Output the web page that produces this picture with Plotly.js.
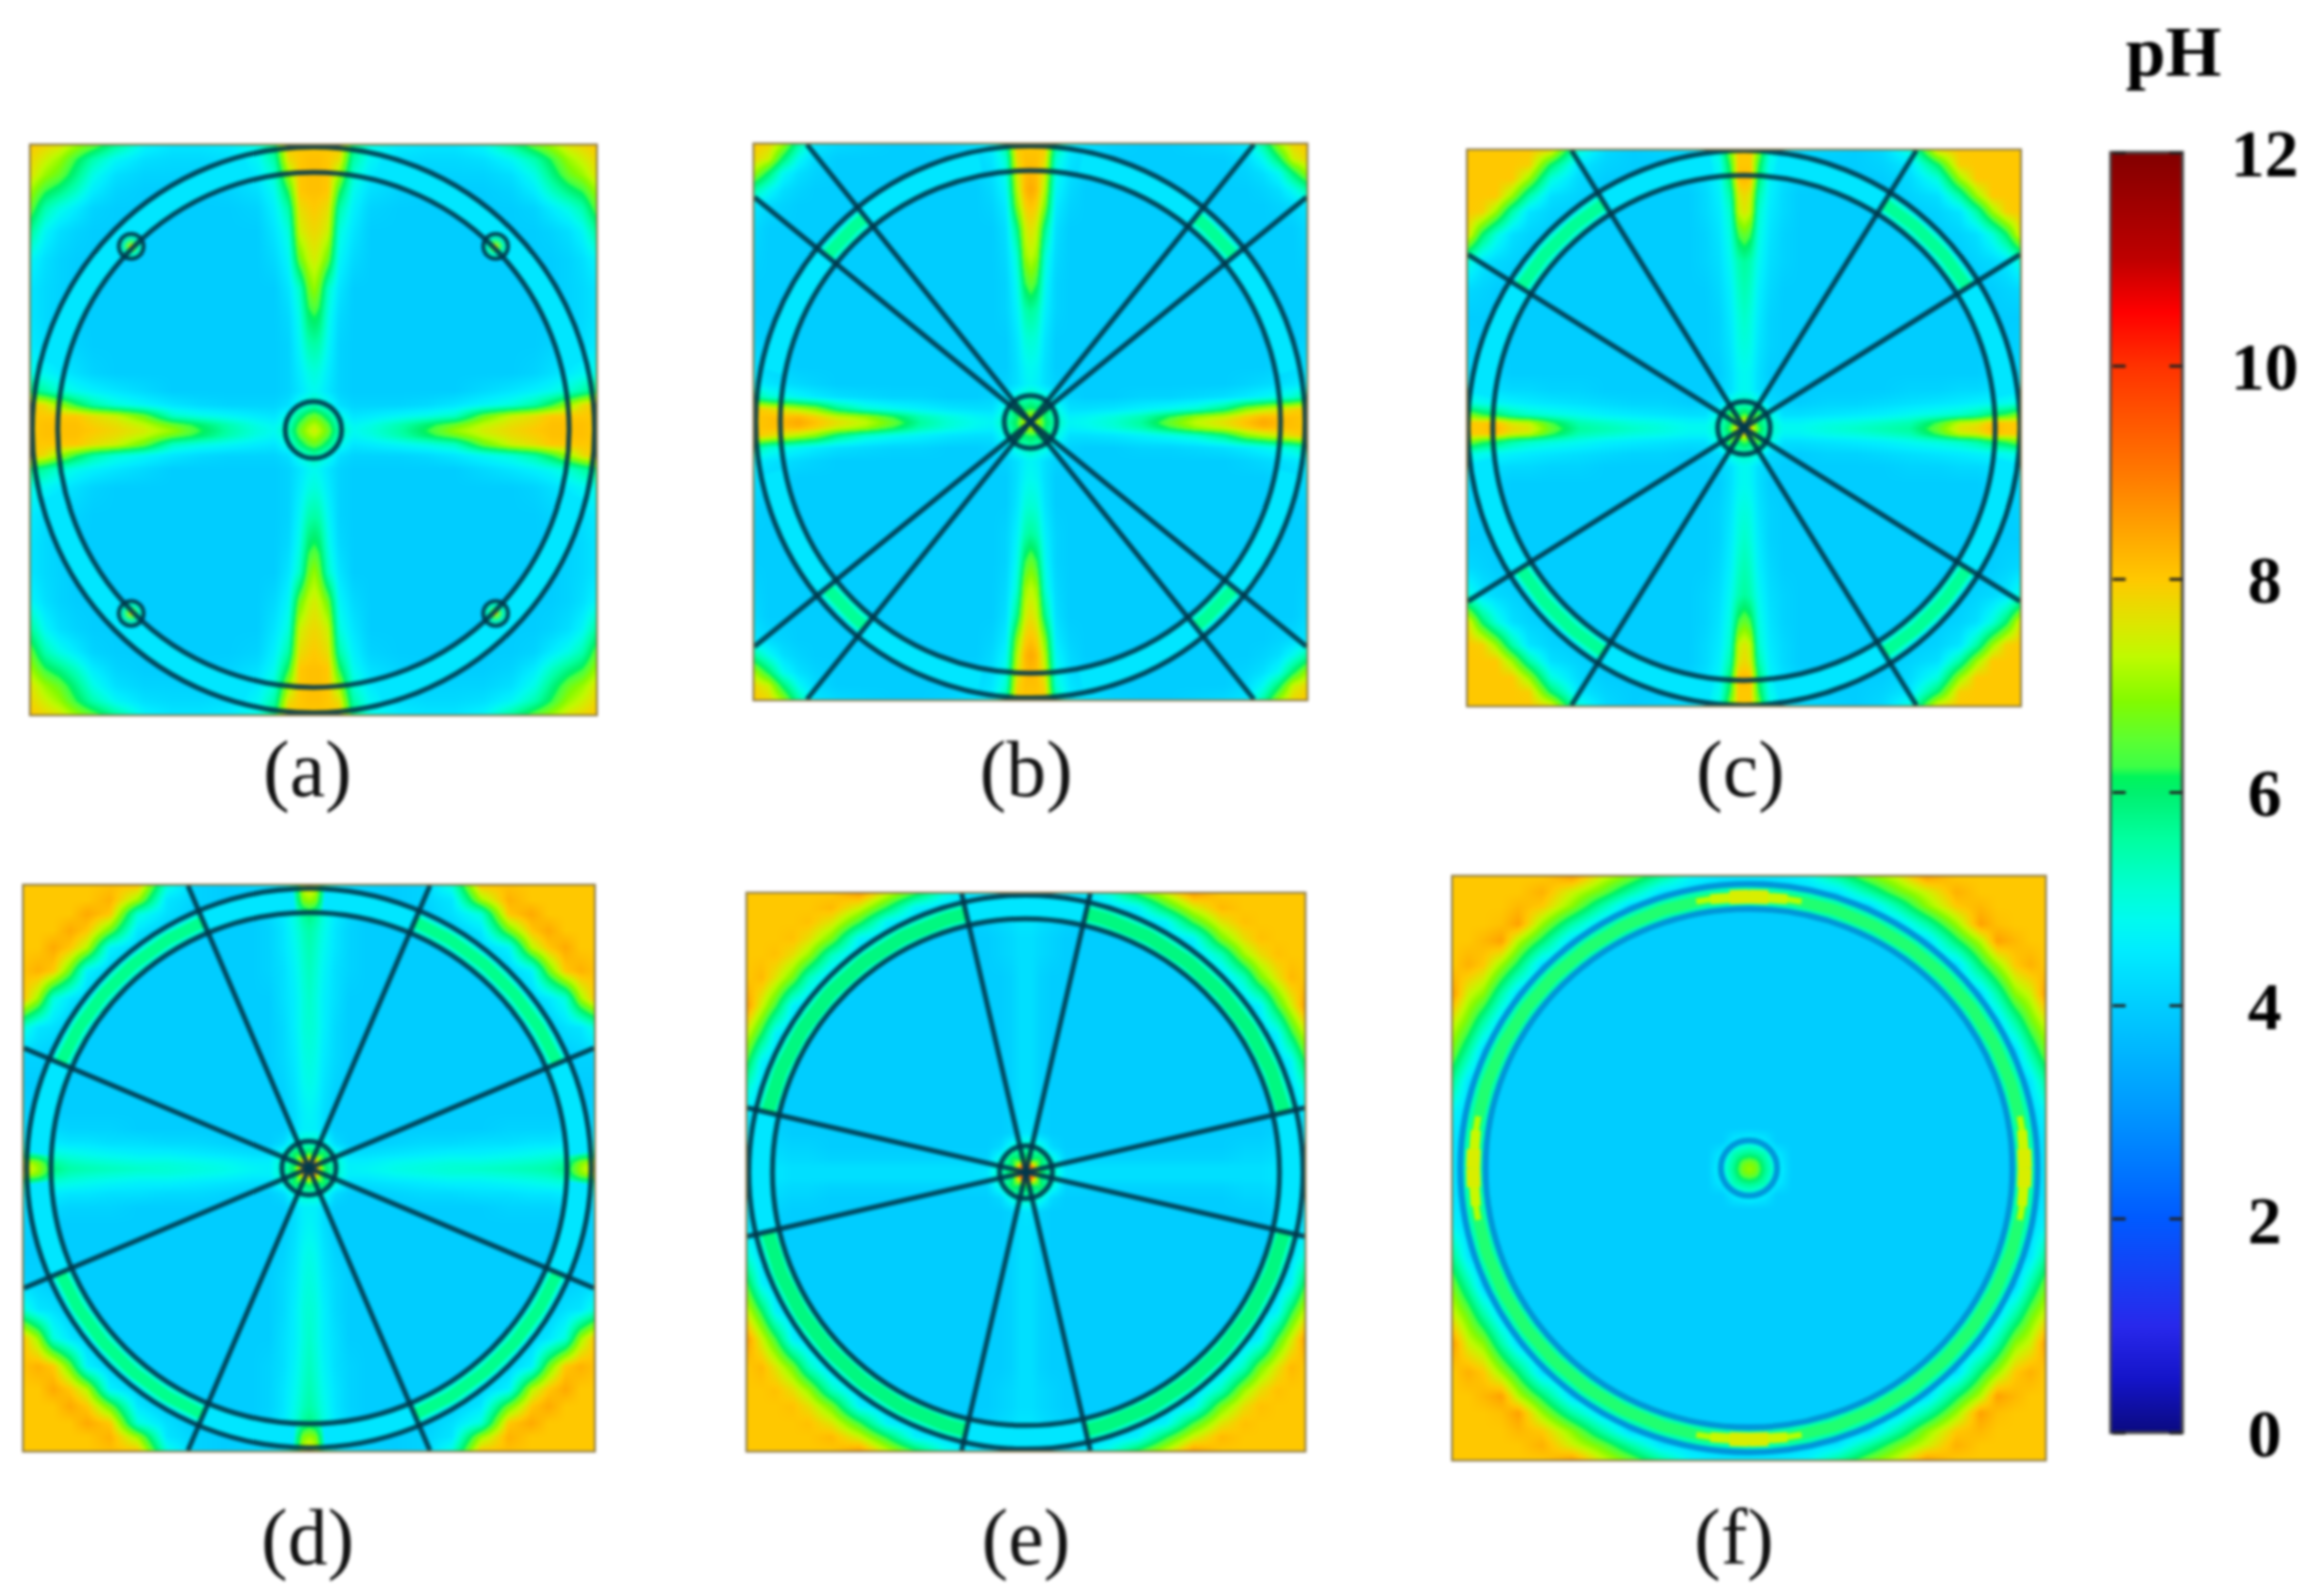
<!DOCTYPE html>
<html>
<head>
<meta charset="utf-8">
<script src="https://cdn.plot.ly/plotly-3.0.1.min.js"></script>
<style>
html, body { margin: 0; padding: 0; background: #fff; }
#plot { width: 2322px; height: 1602px; filter: blur(1.4px); }
</style>
</head>
<body>
<div id="plot"></div>
<script>
// pH colour key
const phStops = [0, 0.5, 1, 2, 3, 4, 4.5, 4.8, 5.1, 5.56, 6, 6.15, 6.24, 6.48, 6.85, 7.27, 7.58, 8, 9, 10, 10.5, 11, 12];
const phColors = ["#0a0a80", "#1414c8", "#2828eb", "#005aff", "#0096ff", "#00cdff", "#00ebff", "#00faf0", "#00ffd2",
    "#00ffa0", "#00f06e", "#00f55a", "#3cff46", "#5aff32", "#82fa00", "#befa00", "#dce600", "#ffc800",
    "#ff7800", "#ff3200", "#ff0000", "#be0000", "#820000"];
const phTicks = [0, 2, 4, 6, 8, 10, 12];
const phTickText = ["\u20050", "\u20052", "\u20054", "\u20056", "\u20058", "10", "12"];

// grid nodes along a half side of the square, centre = 0, edge = 1
const gridNodes = [0, .02, .05, .09, .14, .2, .3, .4, .5, .6, .7, .78, .84, .9, .95, 1];

// pH. Row k holds the values at (gridNodes[k], gridNodes[m]) for m <= k,
// the other seven octants of the square are mirrored from it.
const phRowsA = [
    [7.5],
    [7.2, 7.0],
    [6.6, 6.4, 5.8],
    [5.4, 5.2, 4.9, 4.3],
    [4.8, 4.7, 4.4, 4.1, 4],
    [5.0, 4.9, 4.5, 4.1, 4, 4],
    [5.5, 5.4, 4.7, 4.1, 4, 4, 4],
    [6.2, 6.0, 4.9, 4.2, 4, 4, 4, 4],
    [7.0, 6.6, 5.2, 4.4, 4, 4, 4, 4, 4],
    [7.5, 7.3, 6.6, 4.7, 4.2, 4, 4, 4, 4, 4],
    [7.8, 7.7, 7.4, 5.0, 4.4, 4, 4, 4, 4, 4, 4],
    [8, 7.9, 7.7, 5.5, 4.6, 4.1, 4, 4, 4, 4, 4, 4.1],
    [8.1, 8.1, 8, 6.2, 4.8, 4.3, 4.1, 4, 4, 4, 4.1, 4.5, 5.2],
    [8.1, 8.1, 8, 7, 5.1, 4.5, 4.1, 4.1, 4.1, 4.1, 4.3, 4.9, 5.8, 6.6],
    [8.1, 8.1, 8, 7.7, 5.5, 4.7, 4.3, 4.2, 4.2, 4.3, 4.7, 5.4, 6.2, 7, 7.4],
    [8, 8, 8, 8, 5.9, 4.9, 4.5, 4.4, 4.4, 4.7, 5.6, 6.5, 7, 7.6, 7.8, 8]
];
const phRowsB = [
    [7.6],
    [7.2, 7],
    [6.2, 6, 6.4],
    [5.4, 5.2, 5, 4.4],
    [4.7, 4.6, 4.3, 4.1, 4],
    [4.8, 4.7, 4.3, 4, 4, 4],
    [5.1, 5, 4.4, 4, 4, 4, 4],
    [5.6, 5.4, 4.6, 4.1, 4, 4, 4, 4],
    [6.6, 6.2, 4.8, 4.1, 4, 4, 4, 4, 4],
    [7.3, 7, 5.1, 4.2, 4, 4, 4, 4, 4, 4],
    [7.7, 7.4, 5.8, 4.3, 4, 4, 4, 4, 4, 4, 4],
    [8.1, 7.9, 6.8, 4.5, 4.1, 4, 4, 4, 4, 4, 4, 4],
    [8.4, 8.2, 7.2, 4.7, 4.2, 4, 4, 4, 4, 4, 4, 4, 4.1],
    [8.2, 8.1, 7.5, 4.9, 4.3, 4.1, 4, 4, 4, 4, 4, 4.1, 4.3, 4.8],
    [8.1, 8.1, 7.8, 5.1, 4.4, 4.2, 4, 4, 4, 4, 4, 4.2, 4.8, 6, 7.4],
    [8, 8, 8, 5.6, 4.6, 4.3, 4.1, 4, 4, 4.1, 4.2, 4.4, 5.5, 7, 7.8, 8]
];
const phRowsC = [
    [9],
    [8, 7.6],
    [6.4, 6, 6.4],
    [5.2, 5.2, 5, 4.2],
    [4.8, 4.7, 4.3, 4.1, 4],
    [4.8, 4.7, 4.3, 4, 4, 4],
    [5, 4.9, 4.4, 4.1, 4, 4, 4],
    [5.2, 5, 4.5, 4.1, 4, 4, 4, 4],
    [5.4, 5.2, 4.6, 4.2, 4, 4, 4, 4, 4],
    [5.6, 5.4, 4.8, 4.3, 4.1, 4, 4, 4, 4, 4],
    [6.6, 6.3, 5, 4.4, 4.1, 4, 4, 4, 4, 4, 4],
    [7.6, 7.3, 5.2, 4.5, 4.2, 4, 4, 4, 4, 4, 4.1, 4.4],
    [7.8, 7.5, 5.5, 4.6, 4.2, 4, 4, 4, 4, 4.1, 4.3, 5.5, 7],
    [8.2, 8.1, 6, 4.7, 4.3, 4.1, 4, 4, 4, 4.2, 5, 7, 8, 8],
    [8, 8, 6.3, 4.8, 4.4, 4.2, 4, 4, 4.1, 4.4, 6, 7.9, 8, 8, 8],
    [8, 8, 6.8, 5, 4.5, 4.2, 4.1, 4, 4.2, 5, 7.6, 8, 8, 8, 8, 8]
];
const phRowsD = [
    [10],
    [9, 8.6],
    [6.4, 6, 6.2],
    [5.2, 5.2, 5, 4.2],
    [4.6, 4.6, 4.3, 4, 4],
    [4.7, 4.6, 4.3, 4, 4, 4],
    [4.9, 4.8, 4.4, 4.1, 4, 4, 4],
    [5, 4.9, 4.5, 4.2, 4, 4, 4, 4],
    [5.1, 5, 4.6, 4.2, 4, 4, 4, 4, 4],
    [5.2, 5, 4.6, 4.3, 4, 4, 4, 4, 4, 4],
    [5.3, 5.1, 4.7, 4.3, 4.1, 4, 4, 4, 4, 4, 4.1],
    [5.4, 5.2, 4.8, 4.4, 4.1, 4, 4, 4, 4, 4.1, 4.6, 7.2],
    [5.5, 5.3, 4.9, 4.4, 4.1, 4, 4, 4, 4, 4.4, 6.6, 8, 8.4],
    [5.8, 5.6, 5, 4.5, 4.2, 4, 4, 4, 4.3, 5, 8, 8.4, 8, 8],
    [7, 6.8, 5.4, 4.6, 4.2, 4, 4, 4.1, 4.4, 7, 8.3, 8, 8, 8, 8],
    [7.8, 7.4, 5.5, 4.6, 4.2, 4.1, 4, 4.1, 5, 8, 8.1, 8, 8, 8, 8, 8]
];
const phRowsE = [
    [10.5],
    [9.5, 9],
    [6.3, 6, 6.2],
    [5.3, 5.3, 5, 4.2],
    [4.4, 4.3, 4.1, 4, 4],
    [4.3, 4.3, 4.1, 4, 4, 4],
    [4.3, 4.3, 4.1, 4, 4, 4, 4],
    [4.3, 4.3, 4.1, 4, 4, 4, 4, 4],
    [4.3, 4.3, 4.1, 4, 4, 4, 4, 4, 4],
    [4.3, 4.3, 4.1, 4, 4, 4, 4, 4, 4, 4],
    [4.3, 4.3, 4.1, 4, 4, 4, 4, 4, 4, 4, 4.2],
    [4.3, 4.3, 4.2, 4.1, 4, 4, 4, 4, 4, 4.2, 5.3, 7],
    [4.3, 4.3, 4.2, 4.1, 4, 4, 4, 4, 4.2, 4.6, 6.7, 7.7, 8.1],
    [4.4, 4.4, 4.3, 4.2, 4.1, 4, 4, 4.2, 4.6, 6.3, 7.6, 8.1, 8, 8],
    [4.4, 4.4, 4.4, 4.3, 4.2, 4.2, 4.3, 4.6, 6.1, 7.4, 8.2, 8, 8, 8, 8],
    [4.5, 4.5, 4.5, 4.4, 4.4, 4.4, 5, 6.2, 7.3, 8.5, 8, 8, 8, 8, 8, 8]
];
const phRowsF = [
    [7],
    [6.8, 6.6],
    [5.8, 5.7, 5.4],
    [4.8, 4.7, 4.5, 4],
    [4, 4, 4, 4, 4],
    [4, 4, 4, 4, 4, 4],
    [4, 4, 4, 4, 4, 4, 4],
    [4, 4, 4, 4, 4, 4, 4, 4],
    [4, 4, 4, 4, 4, 4, 4, 4, 4],
    [4, 4, 4, 4, 4, 4, 4, 4, 4, 4],
    [4, 4, 4, 4, 4, 4, 4, 4, 4, 4, 4.3],
    [4, 4, 4, 4, 4, 4, 4, 4, 4, 4.3, 6, 7.2],
    [4, 4, 4, 4, 4, 4, 4, 4, 4.3, 5.5, 7, 8.5, 8.1],
    [4, 4, 4, 4, 4, 4, 4, 4.2, 5.5, 6.9, 8, 8.2, 8, 8],
    [4.2, 4.2, 4.2, 4.2, 4.2, 4.2, 4.4, 5.5, 6.6, 7.4, 8.3, 8, 8, 8, 8],
    [4.4, 4.4, 4.4, 4.4, 4.5, 4.7, 5.6, 6.6, 7.4, 8.5, 8, 8, 8, 8, 8, 8]
];

// angle of the fins from the x axis, first quadrant, mirrored into the others
const spokeAnglesA = [];
const spokeAnglesB = [39, 51];
const spokeAnglesC = [32, 58];
const spokeAnglesD = [23, 67];
const spokeAnglesE = [13, 77];
const spokeAnglesF = [];

// radii of the drawn circles, fraction of a half side
const outerRadius = [0.995, 0.995, 1.0, 0.99, 0.995, 0.975];
const innerRadius = [0.905, 0.906, 0.91, 0.905, 0.91, 0.89];
const hubRadius = [0.1, 0.095, 0.095, 0.095, 0.095, 0.095];

const panelLabels = ["(a)", "(b)", "(c)", "(d)", "(e)", "(f)"];

const W = 2322, H = 1602;
const serif = "Liberation Serif, Times New Roman, serif";
const lineDark = "rgba(0,56,76,0.9)";
const lineBlue = "rgba(0,140,215,0.9)";

// pixel boxes of the panels: left, right, top, bottom, and label centre
const boxes = [
    { l: 31, r: 598, t: 146, b: 717, lx: 308, ly: 773 },
    { l: 757, r: 1311, t: 145, b: 702, lx: 1029, ly: 773 },
    { l: 1473, r: 2027, t: 151, b: 708, lx: 1746, ly: 773 },
    { l: 24, r: 596, t: 889, b: 1456, lx: 308, ly: 1543 },
    { l: 750, r: 1309, t: 897, b: 1456, lx: 1029, ly: 1543 },
    { l: 1458, r: 2052, t: 880, b: 1465, lx: 1740, ly: 1543 }
];

// bands between the two circles: from, to (deg), radius, width, colour
const cyanBand = "#00e6ff";
const bands = [
    [[14, 76, .95, 25, cyanBand]],
    [[11, 79, .95, 25, cyanBand], [39.5, 50.5, .95, 18, "#00ffd0"], [39.5, 50.5, .95, 11, "#00ff96"]],
    [[7, 83, .955, 25, cyanBand], [32, 58, .955, 18, "#00ffd0"], [32, 58, .955, 11, "#00ff96"]],
    [[3, 87, .948, 25, cyanBand], [23, 67, .948, 18, "#00ffd0"], [23, 67, .948, 11, "#00ff8c"]],
    [[0, 90, .952, 25, cyanBand], [13, 77, .952, 21, "#00ffc8"], [13, 77, .952, 13, "#00f880"]],
    [[0, 90, .932, 28, "#00e8e8"], [0, 90, .932, 20, "#00ffb0"], [0, 90, .932, 11, "#20ff70"],
        [0, 11, .932, 6, "#b4ff00"], [0, 8, .932, 10, "#c8f800"], [0, 4, .932, 14, "#d8ee00"]]
];

const colorscale = phStops.map((v, i) => [v / 12, phColors[i]]);
const axisNodes = gridNodes.slice(1).reverse().map(v => -v).concat(gridNodes);

function expandOctants(rows) {
    let n = gridNodes.length - 1;
    let z = [];
    for (let j = -n; j <= n; j++) {
        let row = [];
        for (let i = -n; i <= n; i++) {
            let a = Math.abs(i), b = Math.abs(j);
            row.push(rows[Math.max(a, b)][Math.min(a, b)]);
        }
        z.push(row);
    }
    return z;
}

function arcLine(from, to, radius) {
    let xs = [], ys = [];
    [[1, 1], [-1, 1], [-1, -1], [1, -1]].forEach(q => {
        for (let d = from; d <= to; d += 1) {
            xs.push(q[0] * radius * Math.cos(d * Math.PI / 180));
            ys.push(q[1] * radius * Math.sin(d * Math.PI / 180));
        }
        xs.push(null);
        ys.push(null);
    });
    if (from === 0) {
        // the small tips sit on the axes, so mirror them over as well
        [[1, 1], [-1, 1], [-1, -1], [1, -1]].forEach(q => {
            for (let d = from; d <= to; d += 1) {
                xs.push(q[0] * radius * Math.sin(d * Math.PI / 180));
                ys.push(q[1] * radius * Math.cos(d * Math.PI / 180));
            }
            xs.push(null);
            ys.push(null);
        });
    }
    return { xs, ys };
}

function spokeLine(angles) {
    let xs = [], ys = [];
    angles.forEach(d => {
        let c = Math.cos(d * Math.PI / 180), s = Math.sin(d * Math.PI / 180);
        let t = 1 / Math.max(c, s);
        xs.push(t * c, -t * c, null, -t * c, t * c, null);
        ys.push(t * s, -t * s, null, t * s, -t * s, null);
    });
    return { xs, ys };
}

const allRows = [phRowsA, phRowsB, phRowsC, phRowsD, phRowsE, phRowsF];
const allSpokes = [spokeAnglesA, spokeAnglesB, spokeAnglesC, spokeAnglesD, spokeAnglesE, spokeAnglesF];

// the scale; the two extra bars only carry the short ticks inside it
const barTop = 153, barBottom = 1438;
function barConfig(leftPx, thickness, extra) {
    return Object.assign({
        x: leftPx / W, xanchor: "left", xpad: 0,
        y: (H - barBottom) / H, yanchor: "bottom", ypad: 0,
        len: (barBottom - barTop) / H, lenmode: "fraction",
        thickness: thickness, thicknessmode: "pixels",
        tickmode: "array", tickvals: phTicks
    }, extra);
}
const colorbars = [
    barConfig(2118, 72, {
        ticktext: phTickText, ticks: "outside", ticklen: 34, tickcolor: "rgba(0,0,0,0)",
        tickfont: { family: serif, size: 68, color: "#000", weight: "bold" },
        outlinecolor: "#444", outlinewidth: 3
    }),
    barConfig(2119, 1, { ticktext: phTicks.map(() => ""), ticks: "outside", ticklen: 13, tickwidth: 3, tickcolor: "#222", outlinewidth: 0 }),
    barConfig(2176, 1, { ticktext: phTicks.map(() => ""), ticks: "outside", ticklen: 13, tickwidth: 3, tickcolor: "#222", outlinewidth: 0 })
];

let traces = [];
let shapes = [];
let annotations = [];
let layout = {
    width: W, height: H,
    margin: { l: 0, r: 0, t: 0, b: 0 },
    paper_bgcolor: "#fff", plot_bgcolor: "#fff",
    showlegend: false
};

boxes.forEach((box, p) => {
    let suffix = p === 0 ? "" : String(p + 1);
    let xa = "x" + suffix, ya = "y" + suffix;
    let axis = {
        range: [-1, 1], showgrid: false, zeroline: false, showticklabels: false, ticks: "",
        showline: true, mirror: true, linecolor: "#8c7c50", linewidth: 2, fixedrange: true
    };
    layout["xaxis" + suffix] = Object.assign({}, axis, { domain: [box.l / W, box.r / W], anchor: ya });
    layout["yaxis" + suffix] = Object.assign({}, axis, { domain: [1 - box.b / H, 1 - box.t / H], anchor: xa });

    let hm = {
        type: "heatmap", x: axisNodes, y: axisNodes, z: expandOctants(allRows[p]),
        xaxis: xa, yaxis: ya, zmin: 0, zmax: 12, zsmooth: "best",
        colorscale: colorscale, showscale: p < 3, hoverinfo: "skip"
    };
    if (p < 3) hm.colorbar = colorbars[p];
    traces.push(hm);

    bands[p].forEach(b => {
        let arc = arcLine(b[0], b[1], b[2]);
        traces.push({
            type: "scatter", mode: "lines", x: arc.xs, y: arc.ys, xaxis: xa, yaxis: ya,
            line: { color: b[4], width: b[3] }, hoverinfo: "skip"
        });
    });

    if (allSpokes[p].length) {
        let sp = spokeLine(allSpokes[p]);
        traces.push({
            type: "scatter", mode: "lines", x: sp.xs, y: sp.ys, xaxis: xa, yaxis: ya,
            line: { color: lineDark, width: 5 }, hoverinfo: "skip"
        });
    }

    let circleColor = p === 5 ? lineBlue : lineDark;
    [outerRadius[p], innerRadius[p], hubRadius[p]].forEach(r => {
        shapes.push({
            type: "circle", xref: xa, yref: ya, x0: -r, x1: r, y0: -r, y1: r,
            line: { color: circleColor, width: p === 5 ? 6 : 5 }
        });
    });

    annotations.push({
        text: panelLabels[p], xref: "paper", yref: "paper", x: box.lx / W, y: 1 - box.ly / H,
        xanchor: "center", yanchor: "middle", showarrow: false,
        font: { family: serif, size: 80, color: "#111" }
    });
});

// the four small pipes of panel (a)
const pipeX = [-0.645, 0.645, -0.645, 0.645];
const pipeY = [0.645, 0.645, -0.645, -0.645];
[[25, "#00f0c0", lineDark, 4], [13, "#40ff60", "rgba(0,0,0,0)", 0], [5, "#d8d800", "rgba(0,0,0,0)", 0]].forEach(m => {
    traces.push({
        type: "scatter", mode: "markers", x: pipeX, y: pipeY, xaxis: "x", yaxis: "y",
        marker: { size: m[0], color: m[1], line: { color: m[2], width: m[3] } }, hoverinfo: "skip"
    });
});

annotations.push({
    text: "pH", xref: "paper", yref: "paper", x: 2181 / W, y: 1 - 52 / H,
    xanchor: "center", yanchor: "middle", showarrow: false,
    font: { family: serif, size: 72, color: "#000", weight: "bold" }
});

layout.shapes = shapes;
layout.annotations = annotations;

Plotly.newPlot("plot", traces, layout, { displayModeBar: false, staticPlot: true });
</script>
</body>
</html>
